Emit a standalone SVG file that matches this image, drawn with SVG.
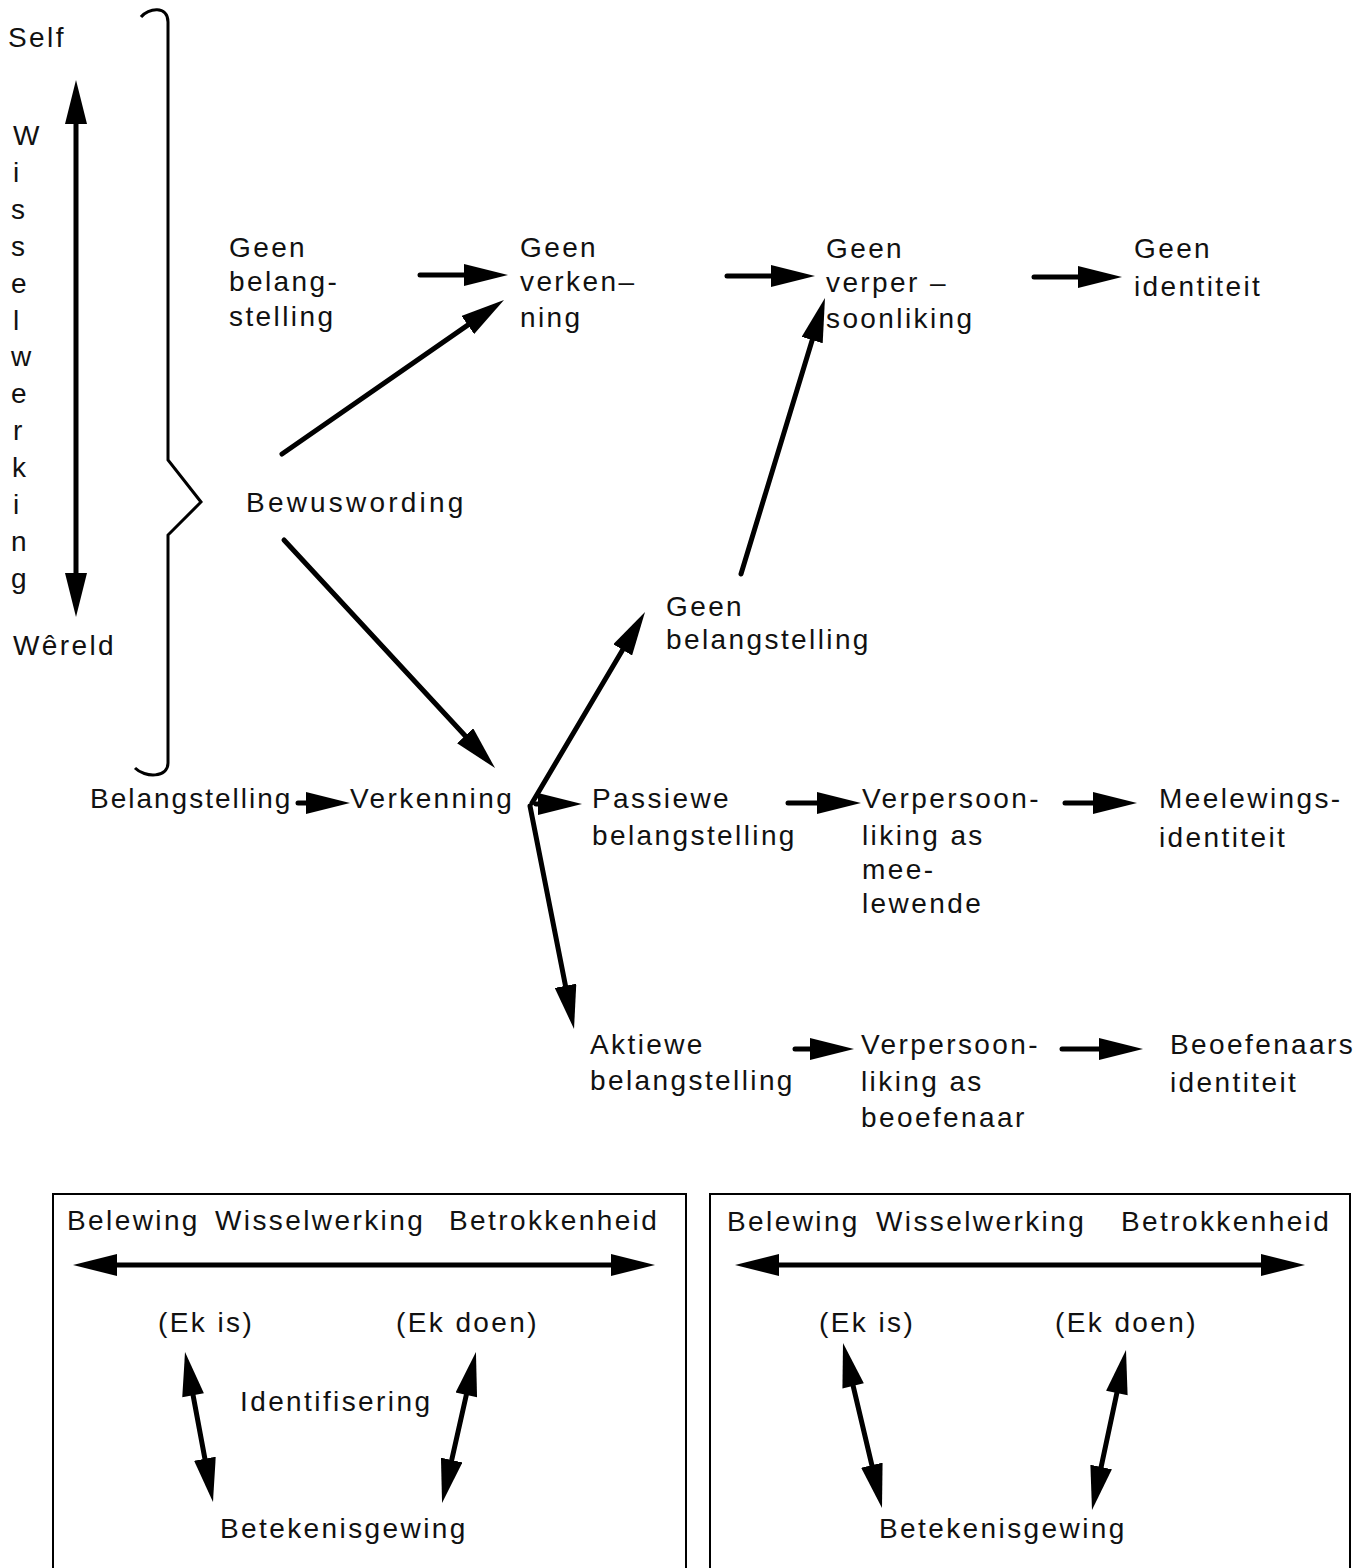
<svg xmlns="http://www.w3.org/2000/svg" width="1370" height="1568" viewBox="0 0 1370 1568">
<style>
text{font-family:"Liberation Sans",Arial,sans-serif;font-size:28px;letter-spacing:2.4px;fill:#111}
.ln{stroke:#000;stroke-width:5;fill:none;stroke-linecap:round}
.br{stroke:#000;stroke-width:3;fill:none}
.bx{stroke:#000;stroke-width:2;fill:none}
</style>
<defs>
<marker id="ah" markerUnits="userSpaceOnUse" markerWidth="46" markerHeight="22" refX="31" refY="11" orient="auto">
<path d="M0,0 L44,11 L0,22 z" fill="#000"/>
</marker>
<marker id="as" markerUnits="userSpaceOnUse" markerWidth="46" markerHeight="22" refX="13" refY="11" orient="auto">
<path d="M44,0 L0,11 L44,22 z" fill="#000"/>
</marker>
</defs>

<g id="axis">
<text x="8" y="47">Self</text>
<text x="13" y="145">W</text>
<text x="13" y="182">i</text>
<text x="11" y="219">s</text>
<text x="11" y="256">s</text>
<text x="11" y="293">e</text>
<text x="13" y="330">l</text>
<text x="11" y="366">w</text>
<text x="11" y="403">e</text>
<text x="13" y="440">r</text>
<text x="12" y="477">k</text>
<text x="13" y="514">i</text>
<text x="11" y="551">n</text>
<text x="11" y="588">g</text>
<text x="13" y="655">Wêreld</text>
</g>

<g id="brace">
<path class="br" d="M141,17 C148,8 168,5 168,22 L168,460 L201,502 L168,535 L168,763 C168,778 145,778 135,768"/>
</g>

<g id="n-geen-belang"><text x="229" y="257">Geen</text><text x="229" y="291">belang-</text><text x="229" y="326">stelling</text></g>
<g id="n-geen-verken"><text x="520" y="257">Geen</text><text x="520" y="291">verken–</text><text x="520" y="327">ning</text></g>
<g id="n-geen-verper"><text x="826" y="258">Geen</text><text x="826" y="292">verper –</text><text x="826" y="328">soonliking</text></g>
<g id="n-geen-id"><text x="1134" y="258">Geen</text><text x="1134" y="296">identiteit</text></g>
<g id="n-bewus"><text x="246" y="512" style="letter-spacing:3.2px">Bewuswording</text></g>
<g id="n-geen-bel2"><text x="666" y="616">Geen</text><text x="666" y="649">belangstelling</text></g>
<g id="n-belang"><text x="90" y="808" style="letter-spacing:2px">Belangstelling</text></g>
<g id="n-verken"><text x="350" y="808">Verkenning</text></g>
<g id="n-passief"><text x="592" y="808">Passiewe</text><text x="592" y="845">belangstelling</text></g>
<g id="n-verp-mee"><text x="862" y="808">Verpersoon-</text><text x="862" y="845">liking as</text><text x="862" y="879">mee-</text><text x="862" y="913">lewende</text></g>
<g id="n-meelewing"><text x="1159" y="808">Meelewings-</text><text x="1159" y="847">identiteit</text></g>
<g id="n-aktief"><text x="590" y="1054">Aktiewe</text><text x="590" y="1090">belangstelling</text></g>
<g id="n-verp-beo"><text x="861" y="1054">Verpersoon-</text><text x="861" y="1091">liking as</text><text x="861" y="1127">beoefenaar</text></g>
<g id="n-beoef"><text x="1170" y="1054">Beoefenaars</text><text x="1170" y="1092">identiteit</text></g>

<g id="box1">
<rect class="bx" x="53" y="1194" width="633" height="400"/>
<text x="67" y="1230">Belewing</text>
<text x="215" y="1230">Wisselwerking</text>
<text x="449" y="1230">Betrokkenheid</text>
<text x="158" y="1332">(Ek is)</text>
<text x="396" y="1332">(Ek doen)</text>
<text x="240" y="1411">Identifisering</text>
<text x="220" y="1538">Betekenisgewing</text>
</g>
<g id="box2">
<rect class="bx" x="710" y="1194" width="640" height="400"/>
<text x="727" y="1231">Belewing</text>
<text x="876" y="1231">Wisselwerking</text>
<text x="1121" y="1231">Betrokkenheid</text>
<text x="819" y="1332">(Ek is)</text>
<text x="1055" y="1332">(Ek doen)</text>
<text x="879" y="1538">Betekenisgewing</text>
</g>

<g id="connectors">
<line class="ln" x1="76" y1="93" x2="76" y2="604" marker-start="url(#as)" marker-end="url(#ah)"/>
<line class="ln" x1="420" y1="275" x2="495" y2="275" marker-end="url(#ah)"/>
<line class="ln" x1="727" y1="276" x2="802" y2="276" marker-end="url(#ah)"/>
<line class="ln" x1="1034" y1="277" x2="1109" y2="277" marker-end="url(#ah)"/>
<line class="ln" x1="282" y1="454" x2="493.3" y2="307.4" marker-end="url(#ah)"/>
<line class="ln" x1="741" y1="574" x2="821.2" y2="310.4" marker-end="url(#ah)"/>
<line class="ln" x1="284" y1="540" x2="486.2" y2="758.5" marker-end="url(#ah)"/>
<line class="ln" x1="298" y1="803" x2="337" y2="803" marker-end="url(#ah)"/>
<line class="ln" x1="532" y1="803" x2="638.4" y2="623.2" marker-end="url(#ah)"/>
<line class="ln" x1="536" y1="804" x2="569" y2="804" marker-end="url(#ah)"/>
<line class="ln" x1="530" y1="806" x2="571.5" y2="1016.2" marker-end="url(#ah)"/>
<line class="ln" x1="788" y1="803" x2="848" y2="803" marker-end="url(#ah)"/>
<line class="ln" x1="1065" y1="803" x2="1124" y2="803" marker-end="url(#ah)"/>
<line class="ln" x1="795" y1="1049" x2="841" y2="1049" marker-end="url(#ah)"/>
<line class="ln" x1="1062" y1="1049" x2="1130" y2="1049" marker-end="url(#ah)"/>
<line class="ln" x1="86" y1="1265" x2="642" y2="1265" marker-start="url(#as)" marker-end="url(#ah)"/>
<line class="ln" x1="187.4" y1="1364.8" x2="210.6" y2="1489.2" marker-start="url(#as)" marker-end="url(#ah)"/>
<line class="ln" x1="473.1" y1="1364.7" x2="444.9" y2="1490.3" marker-start="url(#as)" marker-end="url(#ah)"/>
<line class="ln" x1="748" y1="1265" x2="1292" y2="1265" marker-start="url(#as)" marker-end="url(#ah)"/>
<line class="ln" x1="846" y1="1355.7" x2="879" y2="1495.3" marker-start="url(#as)" marker-end="url(#ah)"/>
<line class="ln" x1="1123.3" y1="1362.7" x2="1094.7" y2="1497.3" marker-start="url(#as)" marker-end="url(#ah)"/>
</g>
</svg>
